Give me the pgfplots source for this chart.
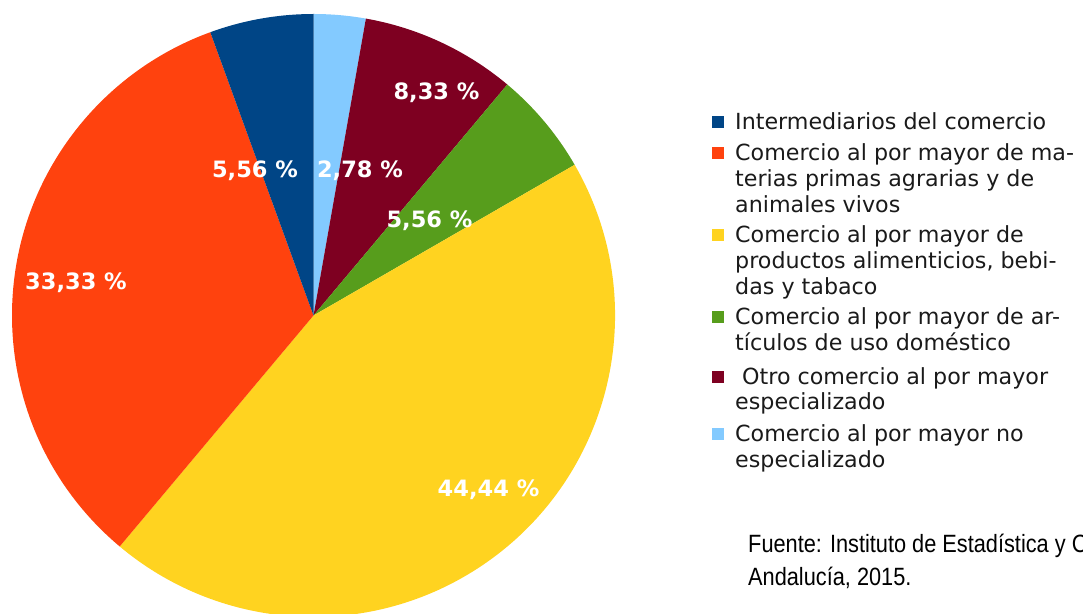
\documentclass[border=0pt]{standalone}
\usepackage{pgfplots}
\pgfplotsset{compat=1.18}
\usepackage{fontspec}
\setmainfont{DejaVu Sans}
\newfontfamily\legfont{DejaVu Sans}
\newfontfamily\labfont{DejaVu Sans Bold}
\newfontfamily\srcfont[FakeStretch=0.87]{Liberation Sans}
\definecolor{c1}{HTML}{004586}
\definecolor{c2}{HTML}{FF420E}
\definecolor{c3}{HTML}{FFD320}
\definecolor{c4}{HTML}{579D1C}
\definecolor{c5}{HTML}{7E0021}
\definecolor{c6}{HTML}{83CAFF}
\definecolor{txt}{HTML}{1A1A1A}

% slice: colour, cumulative start %, cumulative end % (clockwise from 12 o'clock)
\newcommand\slice[3]{%
  \fill[#1] (axis cs:313.5,297.5) -- ++({90-3.6*#2}:301.5pt)
    arc[start angle={90-3.6*#2}, end angle={90-3.6*#3}, radius=301.5pt] -- cycle;}
\newcommand\lab[3]{\node[anchor=base,inner sep=0,text=white,font=\labfont\fontsize{22.5}{27}\selectfont] at (axis cs:#1,#2) {#3};}
\newcommand\legline[3]{\node[anchor=base west,inner sep=0,text=txt,font=\legfont\fontsize{22.2}{26}\selectfont] at (axis cs:#1,#2) {#3};}
\newcommand\legsq[2]{\fill[#1] (axis cs:712,{613-#2+2}) rectangle (axis cs:724,{613-#2+14});}

\begin{document}
\begin{tikzpicture}
\path[use as bounding box, clip] (0,0) rectangle (1083pt,613pt);
\begin{axis}[
  at={(0,0)}, anchor=south west,
  scale only axis, width=1083pt, height=613pt,
  xmin=0, xmax=1083, ymin=0, ymax=613,
  hide axis, clip=false]
% values: 2,78 / 8,33 / 5,56 / 44,44 / 33,33 / 5,56 %
\slice{c6}{0}{2.78}
\slice{c5}{2.78}{11.11}
\slice{c4}{11.11}{16.67}
\slice{c3}{16.67}{61.11}
\slice{c2}{61.11}{94.44}
\slice{c1}{94.44}{100}
\lab{255}{435}{5,56 \%}
\lab{360}{435}{2,78 \%}
\lab{436.5}{513}{8,33 \%}
\lab{429.5}{385}{5,56 \%}
\lab{76}{323}{33,33 \%}
\lab{488.5}{117}{44,44 \%}
% legend
\legsq{c1}{130}
\legline{735}{483}{Intermediarios del comercio}
\legsq{c2}{161}
\legline{735}{452}{Comercio al por mayor de ma-}
\legline{735}{426}{terias primas agrarias y de}
\legline{735}{400}{animales vivos}
\legsq{c3}{243}
\legline{735}{370}{Comercio al por mayor de}
\legline{735}{344}{productos alimenticios, bebi-}
\legline{735}{318}{das y tabaco}
\legsq{c4}{325}
\legline{735}{288}{Comercio al por mayor de ar-}
\legline{735}{262}{tículos de uso doméstico}
\legsq{c5}{385}
\legline{742}{228}{Otro comercio al por mayor}
\legline{735}{203}{especializado}
\legsq{c6}{442}
\legline{735}{171}{Comercio al por mayor no}
\legline{735}{146}{especializado}
\node[anchor=base west,inner sep=0,font=\srcfont\fontsize{25}{33}\selectfont] at (axis cs:748,61) {Fuente: Instituto de Estadística y Cartografía de};
\node[anchor=base west,inner sep=0,font=\srcfont\fontsize{25}{33}\selectfont] at (axis cs:748,28) {Andalucía, 2015.};
\end{axis}
\end{tikzpicture}
\end{document}
